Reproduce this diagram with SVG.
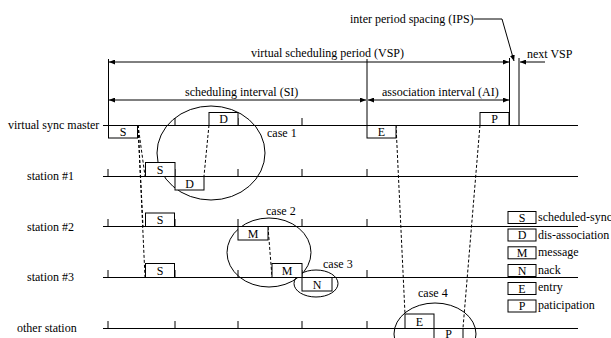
<svg xmlns="http://www.w3.org/2000/svg" width="611" height="338" viewBox="0 0 611 338" font-family="'Liberation Serif', 'Times New Roman', 'DejaVu Serif', serif">
<style>
text{font-family:"Liberation Serif","Times New Roman","DejaVu Serif",serif;font-size:12px;fill:#000}
.c{text-anchor:middle}
.ln{stroke:#000;stroke-width:1.2;fill:none}
.tk{stroke:#000;stroke-width:1;fill:none}
.bx{fill:#fff;stroke:#000;stroke-width:1}
.el{fill:none;stroke:#000;stroke-width:1}
.ds{stroke:#000;stroke-width:1;stroke-dasharray:3,2;fill:none}
.ar{stroke:#000;stroke-width:1;fill:none;marker-end:url(#ah)}
.ar2{stroke:#000;stroke-width:1;fill:none;marker-start:url(#ah);marker-end:url(#ah)}
</style>
<defs>
<marker id="ah" viewBox="0 0 6 5" refX="6" refY="2.5" markerWidth="6" markerHeight="5" markerUnits="userSpaceOnUse" orient="auto-start-reverse">
<path d="M0,0 L6,2.5 L0,5 z" fill="#000"/>
</marker>
</defs>

<!-- timelines -->
<g id="lanes">
<text x="8" y="129">virtual sync master</text>
<line class="ln" x1="103" y1="125.5" x2="578" y2="125.5"/>
<text x="27" y="180">station #1</text>
<line class="ln" x1="103" y1="176.5" x2="578" y2="176.5"/>
<text x="27" y="230.5">station #2</text>
<line class="ln" x1="103" y1="226.5" x2="578" y2="226.5"/>
<text x="27" y="281">station #3</text>
<line class="ln" x1="103" y1="277.5" x2="578" y2="277.5"/>
<text x="17" y="332">other station</text>
<line class="ln" x1="103" y1="328.5" x2="578" y2="328.5"/>
<g class="tk">
<path d="M175,118V125M238,118V125M302,118V125"/>
<path d="M108,169V176M175,169V176M238,169V176M302,169V176M367,169V176"/>
<path d="M108,219V226M175,219V226M238,219V226M302,219V226M367,219V226"/>
<path d="M108,270V277M175,270V277M238,270V277M302,270V277M367,270V277"/>
<path d="M108,321V328M175,321V328M238,321V328M302,321V328M367,321V328"/>
<path d="M108.5,59V126M367,59V126M509.5,58V126M519,58V126"/>
</g>
</g>

<!-- period annotations -->
<g id="periods">
<line class="ar2" x1="109" y1="62" x2="509" y2="62"/>
<text x="251" y="57">virtual scheduling period (VSP)</text>
<line class="ar2" x1="109" y1="100" x2="366" y2="100"/>
<text x="185" y="96">scheduling interval (SI)</text>
<line class="ar2" x1="368" y1="100" x2="509" y2="100"/>
<text x="382" y="96">association interval (AI)</text>
<text x="350" y="23">inter period spacing (IPS)</text>
<polyline class="ar" points="474,19 502,19 514,61"/>
<line class="ar" x1="545" y1="62" x2="520" y2="62"/>
<text x="527" y="58">next VSP</text>
</g>

<!-- cases -->
<g id="case1">
<ellipse class="el" cx="211" cy="153" rx="54" ry="47"/>
<text x="267" y="137">case 1</text>
</g>
<g id="case2">
<ellipse class="el" cx="269" cy="252.5" rx="42" ry="34.5"/>
<text x="266" y="215">case 2</text>
</g>
<g id="case3">
<ellipse class="el" cx="316" cy="283.5" rx="22" ry="13.5"/>
<text x="323" y="268">case 3</text>
</g>
<g id="case4">
<ellipse class="el" cx="435" cy="334" rx="41" ry="31"/>
<text x="418" y="297">case 4</text>
</g>

<!-- connectors -->
<g id="connectors">
<line class="ds" x1="138" y1="125" x2="145" y2="176"/>
<line class="ds" x1="138" y1="125" x2="143" y2="226"/>
<line class="ds" x1="138" y1="125" x2="145" y2="277"/>
<line class="ds" x1="209" y1="125" x2="204" y2="176"/>
<line class="ds" x1="268" y1="227" x2="272" y2="277"/>
<line class="ds" x1="396" y1="125" x2="405" y2="314"/>
<line class="ds" x1="480" y1="125" x2="463" y2="328"/>
</g>

<!-- message boxes -->
<g id="master-S"><rect class="bx" x="108.5" y="125.5" width="29" height="12.5"/><text class="c" x="123" y="135.5">S</text></g>
<g id="master-D"><rect class="bx" x="209" y="112.5" width="29" height="13"/><text class="c" x="223.5" y="123">D</text></g>
<g id="master-E"><rect class="bx" x="367" y="125.5" width="29" height="12.5"/><text class="c" x="381.5" y="135.5">E</text></g>
<g id="master-P"><rect class="bx" x="480" y="112.5" width="29" height="13"/><text class="c" x="494.5" y="123">P</text></g>
<g id="st1-S"><rect class="bx" x="145.5" y="162.5" width="29.5" height="14"/><text class="c" x="160" y="174">S</text></g>
<g id="st1-D"><rect class="bx" x="175" y="176.5" width="29" height="13.5"/><text class="c" x="189.5" y="187.5">D</text></g>
<g id="st2-S"><rect class="bx" x="145.5" y="213" width="29" height="13.5"/><text class="c" x="160" y="224">S</text></g>
<g id="st2-M"><rect class="bx" x="238" y="226.5" width="30" height="13.5"/><text class="c" x="253" y="237.5">M</text></g>
<g id="st3-S"><rect class="bx" x="145.5" y="263.5" width="29" height="14"/><text class="c" x="160" y="275">S</text></g>
<g id="st3-M"><rect class="bx" x="272" y="263.5" width="30" height="14"/><text class="c" x="287" y="275">M</text></g>
<g id="st3-N"><rect class="bx" x="302" y="277.5" width="30" height="13.5"/><text class="c" x="317" y="288.5">N</text></g>
<g id="other-E"><rect class="bx" x="405" y="314" width="29" height="14.5"/><text class="c" x="419.5" y="326">E</text></g>
<g id="other-P"><rect class="bx" x="434" y="328.5" width="29" height="14"/><text class="c" x="448.5" y="337.5">P</text></g>

<!-- legend -->
<g id="legend">
<g id="leg-S"><rect class="bx" x="508" y="211.5" width="28" height="12"/><text class="c" x="522" y="221.5">S</text><text x="538" y="221">scheduled-sync</text></g>
<g id="leg-D"><rect class="bx" x="508" y="229" width="28" height="12"/><text class="c" x="522" y="239">D</text><text x="538" y="238.5">dis-association</text></g>
<g id="leg-M"><rect class="bx" x="508" y="246.8" width="28" height="12"/><text class="c" x="522" y="256.8">M</text><text x="538" y="256">message</text></g>
<g id="leg-N"><rect class="bx" x="508" y="264.5" width="28" height="12"/><text class="c" x="522" y="274.5">N</text><text x="538" y="273.5">nack</text></g>
<g id="leg-E"><rect class="bx" x="508" y="282.5" width="28" height="12"/><text class="c" x="522" y="292.5">E</text><text x="538" y="290.5">entry</text></g>
<g id="leg-P"><rect class="bx" x="508" y="300" width="28" height="12"/><text class="c" x="522" y="310">P</text><text x="538" y="309">paticipation</text></g>
</g>
</svg>
